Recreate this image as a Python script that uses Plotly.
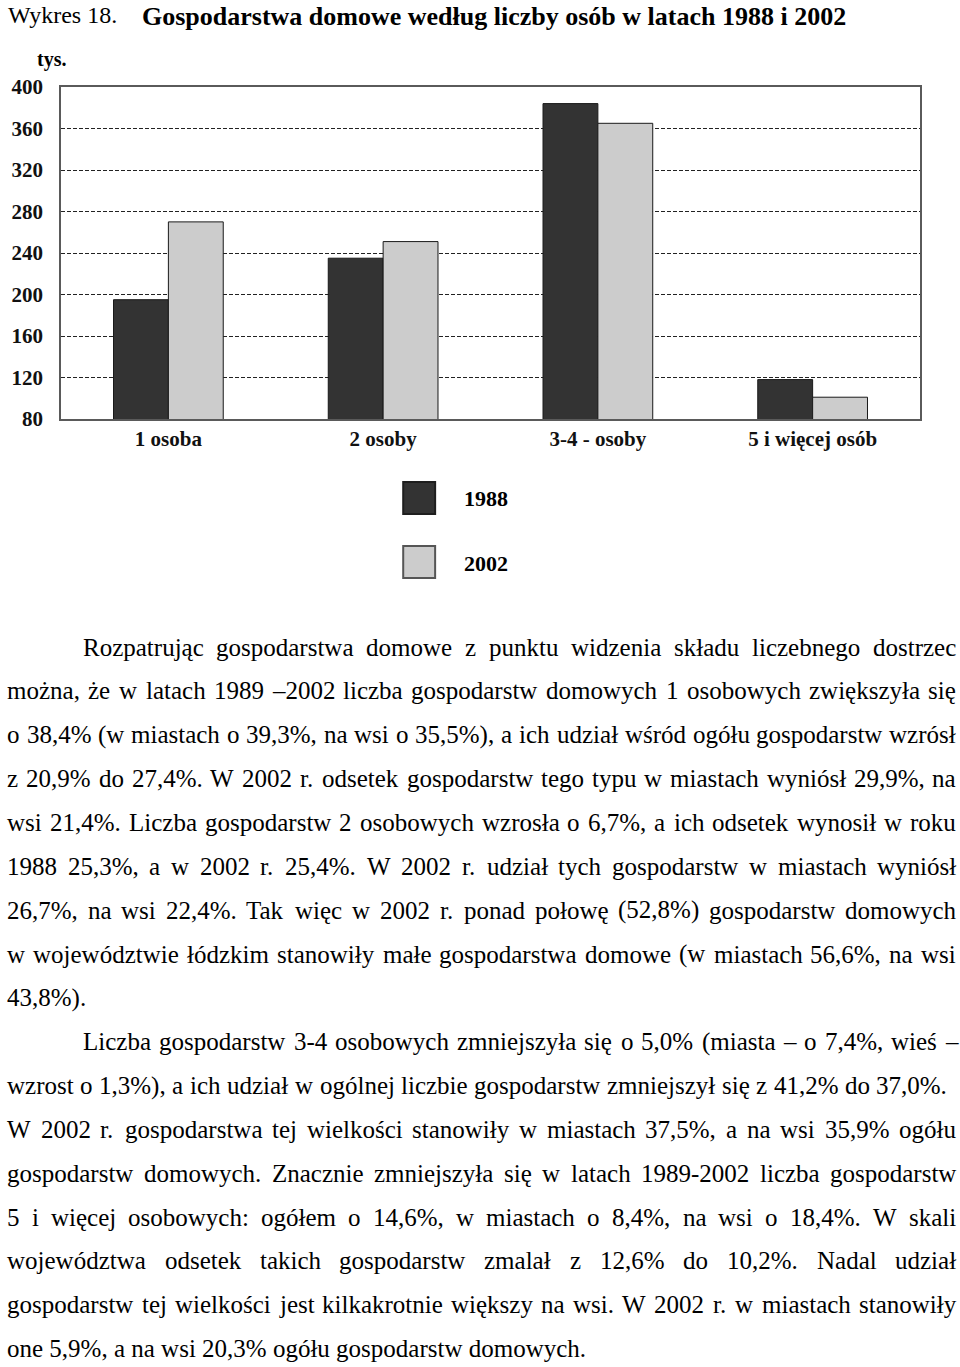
import plotly.graph_objects as go

# ---------------- data ----------------
categories = ["1 osoba", "2 osoby", "3-4 - osoby", "5 i więcej osób"]
years = ["1988", "2002"]
values_1988 = [195, 235, 384, 118]
values_2002 = [270, 251, 365, 101]
y_ticks = [80, 120, 160, 200, 240, 280, 320, 360, 400]
bar_colors = ["#333333", "#cccccc"]

title_prefix = "Wykres 18."
title_main = "Gospodarstwa domowe według liczby osób w latach 1988 i 2002"
unit_label = "tys."

paragraph_lines = [
    "Rozpatrując gospodarstwa domowe z punktu widzenia składu liczebnego dostrzec",
    "można, że w latach 1989 –2002 liczba gospodarstw domowych 1 osobowych zwiększyła się",
    "o 38,4% (w miastach o 39,3%, na wsi o 35,5%), a ich udział wśród ogółu gospodarstw wzrósł",
    "z 20,9% do 27,4%. W 2002 r. odsetek gospodarstw tego typu w miastach wyniósł 29,9%, na",
    "wsi 21,4%. Liczba gospodarstw 2 osobowych wzrosła o 6,7%, a ich odsetek wynosił w roku",
    "1988 25,3%, a w 2002 r. 25,4%. W 2002 r. udział tych gospodarstw w miastach wyniósł",
    "26,7%, na wsi 22,4%. Tak więc w 2002 r. ponad połowę (52,8%) gospodarstw domowych",
    "w województwie łódzkim stanowiły małe gospodarstwa domowe (w miastach 56,6%, na wsi",
    "43,8%).",
    "Liczba gospodarstw 3-4 osobowych zmniejszyła się o 5,0% (miasta – o 7,4%, wieś –",
    "wzrost o 1,3%), a ich udział w ogólnej liczbie gospodarstw zmniejszył się z 41,2% do 37,0%.",
    "W 2002 r. gospodarstwa tej wielkości stanowiły w miastach 37,5%, a na wsi 35,9% ogółu",
    "gospodarstw domowych. Znacznie zmniejszyła się w latach 1989-2002 liczba gospodarstw",
    "5 i więcej osobowych: ogółem o 14,6%, w miastach o 8,4%, na wsi o 18,4%. W skali",
    "województwa odsetek takich gospodarstw zmalał z 12,6% do 10,2%. Nadal udział",
    "gospodarstw tej wielkości jest kilkakrotnie większy na wsi. W 2002 r. w miastach stanowiły",
    "one 5,9%, a na wsi 20,3% ogółu gospodarstw domowych.",
]
# (indent, justified, right edge px)
line_format = [
    (True, True, 955), (False, True, 955), (False, True, 955), (False, True, 955),
    (False, True, 955), (False, True, 955), (False, True, 955), (False, True, 955),
    (False, False, 955),
    (True, True, 957), (False, True, 946), (False, True, 955), (False, True, 955),
    (False, True, 955), (False, True, 955), (False, True, 955),
    (False, False, 955),
]

# ---------------- geometry ----------------
FIG_W, FIG_H = 960, 1367
M_L, M_R, M_T, M_B = 59, 40, 87, 948
PW = FIG_W - M_L - M_R
PH = FIG_H - M_T - M_B
SERIF = "Liberation Serif, Times New Roman, serif"
TXT = "#000000"


def px2x(px):
    return (px - M_L) / PW


def py2y(py):
    return (M_T + PH - py) / PH


# Times New Roman (Liberation Serif) advance widths, 1/1000 em
_w = {}
for ch, v in zip("abcdefghijklmnopqrstuvwxyz",
                 [444, 500, 444, 500, 444, 333, 500, 500, 278, 278, 500, 278, 778,
                  500, 500, 500, 500, 333, 389, 278, 500, 500, 722, 500, 500, 444]):
    _w[ch] = v
for ch, v in zip("ABCDEFGHIJKLMNOPQRSTUVWXYZ",
                 [722, 667, 667, 722, 611, 556, 722, 722, 333, 389, 722, 611, 889,
                  722, 722, 556, 722, 667, 556, 611, 722, 722, 944, 722, 722, 611]):
    _w[ch] = v
for ch in "0123456789":
    _w[ch] = 500
_w.update({" ": 250, ",": 250, ".": 250, "%": 833, "(": 333, ")": 333, "-": 333,
           "–": 500, ":": 278, "ą": 444, "ć": 444, "ę": 444, "ł": 278, "ń": 500,
           "ó": 500, "ś": 389, "ź": 444, "ż": 444, "Ł": 611, "Ś": 556, "Ż": 611})


def text_w(s, size):
    return sum(_w.get(c, 500) for c in s) / 1000.0 * size


annotations = []


def add_text(text, px, py, size, xanchor="left", yanchor="middle", color=TXT):
    annotations.append(dict(
        text=text, x=px2x(px), y=py2y(py), xref="paper", yref="paper",
        xanchor=xanchor, yanchor=yanchor, showarrow=False, borderpad=0,
        font=dict(family=SERIF, size=size, color=color),
    ))


# ---------------- figure ----------------
fig = go.Figure()
for yr, vals, col in zip(years, [values_1988, values_2002], bar_colors):
    fig.add_trace(go.Bar(
        x=categories, y=vals, name=yr,
        marker=dict(color=col, line=dict(color="#1a1a1a", width=1)),
        showlegend=False,
    ))

# title (box top at the page top)
add_text(title_prefix, 5, 0.5, 24, yanchor="top")
add_text("<b>" + title_main + "</b>", 139, 0.5, 26, yanchor="top")

# unit
add_text("<b>" + unit_label + "</b>", 49, 59, 20, xanchor="center")

# legend (drawn manually: large squares)
shapes = []
leg_rows = [(482, 514), (546, 578)]
leg_lines = ["#1e1e1e", "#555555"]
for (top, bot), col, lc, yr in zip(leg_rows, bar_colors, leg_lines, years):
    shapes.append(dict(type="rect", xref="paper", yref="paper",
                       x0=px2x(402), x1=px2x(434), y0=py2y(bot), y1=py2y(top),
                       fillcolor=col, line=dict(color=lc, width=2)))
    add_text("<b>" + yr + "</b>", 462, (top + bot) / 2 + 1, 22)

# paragraph text (justified)
FS = 25
for i, (line, (indent, just, right)) in enumerate(zip(paragraph_lines, line_format)):
    base = 655.5 + i * 43.85
    cy = base - 0.3375 * FS
    left = 80 if indent else 4
    if not just:
        add_text(line, left, cy, FS)
        continue
    words = line.split(" ")
    widths = [text_w(w, FS) for w in words]
    gap = (right - left - sum(widths)) / (len(words) - 1)
    x = left
    for w, wd in zip(words, widths):
        add_text(w, x, cy, FS)
        x += wd + gap

fig.update_layout(
    width=FIG_W, height=FIG_H,
    margin=dict(l=M_L, r=M_R, t=M_T, b=M_B, pad=0),
    paper_bgcolor="white", plot_bgcolor="white",
    barmode="group", bargap=0.489, bargroupgap=0,
    annotations=annotations, shapes=shapes,
    font=dict(family=SERIF, color=TXT),
)
fig.update_xaxes(
    showline=True, linecolor="#5a5a5a", linewidth=1.5, mirror=True,
    showgrid=False, ticks="", ticklabelstandoff=0,
    tickvals=categories, ticktext=["<b>" + c + "</b>" for c in categories],
    tickfont=dict(family=SERIF, size=21, color="#111111"),
)
fig.update_yaxes(
    range=[80, 400], tickvals=y_ticks, ticktext=["<b>%d</b>" % v for v in y_ticks],
    showline=True, linecolor="#5a5a5a", linewidth=1.5, mirror=True,
    showgrid=True, gridcolor="#222222", gridwidth=1.2, griddash="4px,2px",
    zeroline=False, ticks="", ticklabelstandoff=12,
    tickfont=dict(family=SERIF, size=21, color="#111111"),
)

fig.write_html("out.html", config={"displayModeBar": False},
               post_script="document.body.style.margin='0';")
